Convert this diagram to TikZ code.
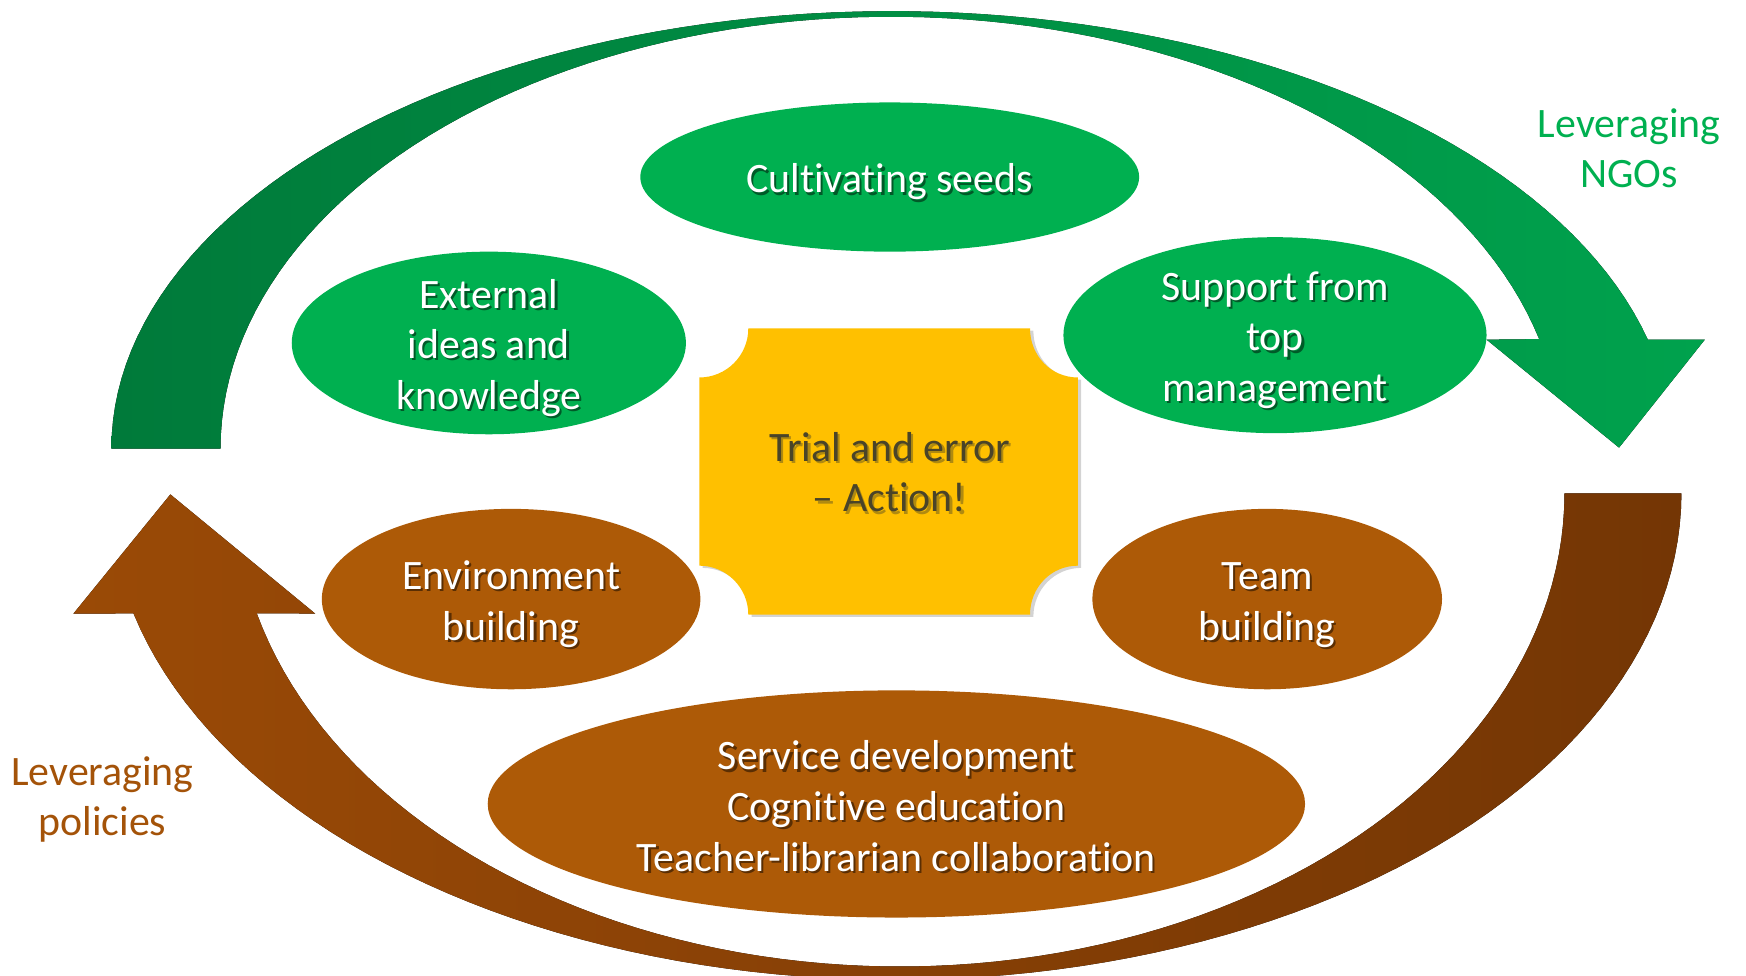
\documentclass[tikz,border=0pt]{standalone}
\usepackage{fontspec}
\setmainfont{Carlito}[Ligatures=NoCommon]
\usetikzlibrary{shapes.geometric,shadows}
\definecolor{gEll}{HTML}{00B050}
\definecolor{bEll}{HTML}{AD5A07}
\definecolor{gDark}{HTML}{007A3A}
\definecolor{gLight}{HTML}{00A24D}
\definecolor{bLeft}{HTML}{9A4A06}
\definecolor{bRight}{HTML}{743605}
\definecolor{plaq}{HTML}{FFC000}
\definecolor{ngo}{HTML}{00B050}
\definecolor{pol}{HTML}{A45309}
\definecolor{trial}{HTML}{4A4428}
\definecolor{gShd}{HTML}{005A28}
\definecolor{bShd}{HTML}{5A2E03}
\definecolor{yShd}{HTML}{B08A10}
\newcommand\shd[2][black!55]{\leavevmode\rlap{\kern1pt\raisebox{-1pt}{\textcolor{#1}{#2}}}#2}
\newcommand\tstrut{\rule{0pt}{18.4pt}}
\newcommand\sstrut{\rule{0pt}{16pt}}
\begin{document}
\begin{tikzpicture}[x=0.5pt,y=-0.5pt,
  txtfont/.style={font=\fontsize{18.8}{22.75}\selectfont},
  bubble/.style={ellipse, inner sep=-40pt, text=white, align=center, txtfont},
  gbubble/.style={bubble, fill=gEll},
  bbubble/.style={bubble, fill=bEll},
  sidelabel/.style={align=center, txtfont, inner sep=0pt}]
\useasboundingbox (0,0) rectangle (1568,876);
\clip (0,0) rectangle (1568,876);

% top curved arrow (green)
\fill[left color=gDark, right color=gLight]
  plot[domain=180:14.44, samples=90] ({801+701*cos(\x)},{403-393*sin(\x)})
  -- (1531,305) -- (1454,402) -- (1335,305)
  -- plot[domain=14.7:180, samples=90] ({800+602*cos(\x)},{403-388*sin(\x)}) -- cycle;

% bottom curved arrow (brown)
\fill[left color=bLeft, right color=bRight]
  plot[domain=0:165.7, samples=90] ({804+706*cos(\x)},{443+437*sin(\x)})
  -- (66,551) -- (153,444) -- (283,551)
  -- plot[domain=165.3:0, samples=90] ({808+597*cos(\x)},{443+425*sin(\x)}) -- cycle;

% ellipses
\node[gbubble, minimum width=224pt, minimum height=67pt] (seeds) at (799,159)
  {\tstrut\shd[gShd]{Cultivating seeds}};
\node[gbubble, minimum width=177pt, minimum height=82pt] (ext) at (439,308)
  {\tstrut\shd[gShd]{External}\\\shd[gShd]{ideas and}\\\shd[gShd]{knowledge}};
\node[gbubble, minimum width=190pt, minimum height=88pt] (top) at (1145,301)
  {\tstrut\shd[gShd]{Support from}\\\shd[gShd]{top}\\\shd[gShd]{management}};
\node[bbubble, minimum width=170pt, minimum height=81pt] (env) at (459,538)
  {\tstrut\shd[bShd]{Environment}\\\shd[bShd]{building}};
\node[bbubble, minimum width=157pt, minimum height=81pt] (team) at (1138,538)
  {\tstrut\shd[bShd]{Team}\\\shd[bShd]{building}};
\node[bbubble, minimum width=367pt, minimum height=102pt] (serv) at (805,722)
  {\sstrut\shd[bShd]{Service development}\\\shd[bShd]{Cognitive education}\\\shd[bShd]{Teacher-librarian collaboration}};

% central plaque
\fill[plaq, drop shadow={shadow xshift=1.5pt, shadow yshift=-1pt, opacity=0.35}]
  (672,295) -- (925,295) .. controls (925,319.3) and (943.7,339) .. (968,339)
  -- (968,508) .. controls (943.7,508) and (925,527.7) .. (925,552)
  -- (672,552) .. controls (672,527.7) and (652.3,508) .. (628,508)
  -- (628,339) .. controls (652.3,339) and (672,319.3) .. (672,295) -- cycle;
\node[align=center, txtfont, text=trial] (trial) at (799,425)
  {\shd[yShd]{Trial and error}\\\shd[yShd]{-- Action!}};

% side labels
\node[sidelabel, text=ngo] (ngos) at (1463,133) {Leveraging\\NGOs};
\node[sidelabel, text=pol] (pols) at (92,718) {Leveraging\\policies};
\end{tikzpicture}
\end{document}
